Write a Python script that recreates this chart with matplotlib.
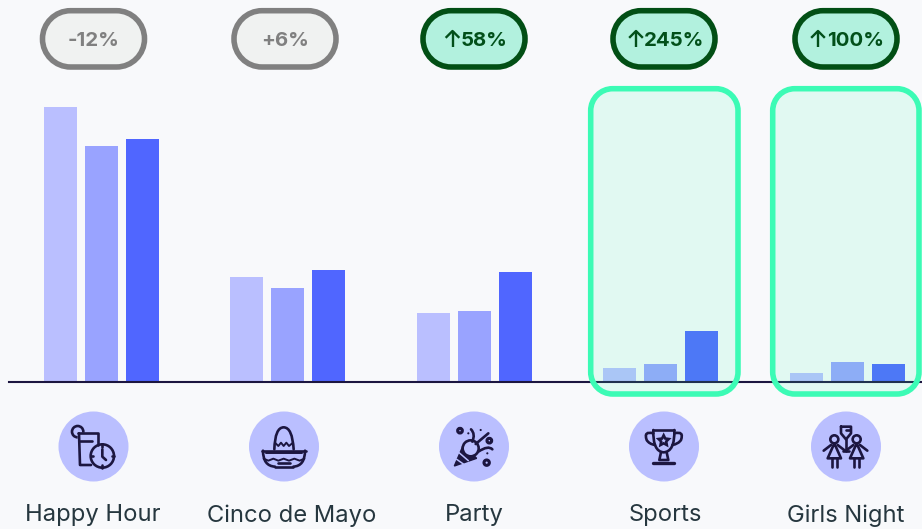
import matplotlib
matplotlib.use("Agg")
import matplotlib.pyplot as plt
from matplotlib.patches import Circle, Polygon, PathPatch
from matplotlib.path import Path
import numpy as np

W, H = 922, 529
categories = ["Happy Hour", "Cinco de Mayo", "Party", "Sports", "Girls Night"]
series_1 = [275, 105, 69, 14, 9]
series_2 = [236, 94, 71, 18, 20]
series_3 = [243, 112, 110, 51, 18]
changes = ["-12%", "+6%", "58%", "245%", "100%"]
is_up = [False, False, True, True, True]
highlighted = [False, False, False, True, True]

BG = "#F8F9FB"
BAR_COLORS = ["#BABFFF", "#99A3FF", "#5066FF"]
INK = "#1C1640"
plt.rcParams["font.family"] = ["Inter", "DejaVu Sans"]

fig = plt.figure(figsize=(W / 100, H / 100), dpi=100, facecolor=BG)

# value axes: baseline at y=382px
ax = fig.add_axes([0, (H - 382) / H, 1, 275 / H])
ax.set_facecolor("none")
step = 186.4
ax.set_xlim(-101.5 / step, (W - 101.5) / step)
ax.set_ylim(0, 275)
x = np.arange(len(categories))
for off, vals, col in zip([-41, 0, 41], [series_1, series_2, series_3], BAR_COLORS):
    ax.bar(x + off / step, vals, width=33 / step, color=col, linewidth=0, zorder=2)
for s in ["top", "left", "right"]:
    ax.spines[s].set_visible(False)
ax.spines["bottom"].set_linewidth(1.5)
ax.spines["bottom"].set_color(INK)
ax.spines["bottom"].set_zorder(3)
ax.spines["bottom"].set_bounds(-101.5 / step + 9 / step, (W - 101.5) / step)
ax.set_xticks([])
ax.set_yticks([])

# overlay in pixel coordinates
ov = fig.add_axes([0, 0, 1, 1], zorder=5)
ov.set_xlim(0, W)
ov.set_ylim(H, 0)
ov.axis("off")
ov.patch.set_alpha(0)


def box(x0, y0, x1, y1, r, **kw):
    k = 0.5523 * r
    v = [(x0 + r, y0), (x1 - r, y0),
         (x1 - r + k, y0), (x1, y0 + r - k), (x1, y0 + r),
         (x1, y1 - r),
         (x1, y1 - r + k), (x1 - r + k, y1), (x1 - r, y1),
         (x0 + r, y1),
         (x0 + r - k, y1), (x0, y1 - r + k), (x0, y1 - r),
         (x0, y0 + r),
         (x0, y0 + r - k), (x0 + r - k, y0), (x0 + r, y0),
         (x0 + r, y0)]
    c = [Path.MOVETO, Path.LINETO] + [Path.CURVE4] * 3 + [Path.LINETO] + [Path.CURVE4] * 3 + \
        [Path.LINETO] + [Path.CURVE4] * 3 + [Path.LINETO] + [Path.CURVE4] * 3 + [Path.CLOSEPOLY]
    p = PathPatch(Path(v, c), **kw)
    ov.add_patch(p)
    return p


# highlight boxes
box_x = {3: (590.7, 738), 4: (772.7, 919)}
for i, flag in enumerate(highlighted):
    if flag:
        x0, x1 = box_x[i]
        box(x0, 88.7, x1, 394, 22, facecolor="#3CFBB5", alpha=0.12, edgecolor="none")
        box(x0, 88.7, x1, 394, 22, facecolor="none", edgecolor="#3CFBB5", linewidth=4)

# pills
pill_c = [93.5, 285, 474, 664, 846]
for cx, txt, up in zip(pill_c, changes, is_up):
    fc, ec = ("#B2F1DE", "#024F15") if up else ("#F0F2F1", "#808080")
    box(cx - 51, 10.7, cx + 51, 67, 28, facecolor=fc, edgecolor=ec, linewidth=4)
    if up:
        tw = {"58%": 45, "245%": 58, "100%": 58}[txt]
        ov.text(cx + 10, 39, txt, ha="center", va="center_baseline", fontsize=14.7,
                fontweight="bold", color="#02501A")
        ax_x = cx + 10 - tw / 2 - 9
        ov.plot([ax_x, ax_x], [47, 31], color="#02501A", lw=1.7, solid_capstyle="butt")
        ov.plot([ax_x - 6, ax_x, ax_x + 6], [37, 31, 37], color="#02501A", lw=1.7)
    else:
        ov.text(cx, 39, txt, ha="center", va="center_baseline", fontsize=14.7,
                fontweight="bold", color="#808080")

# labels
label_c = [93, 291.5, 474, 665, 846]
for cx, lab in zip(label_c, categories):
    ov.text(cx, 513, lab, ha="center", va="center_baseline", fontsize=17.1, color="#26373F")

# icon circles
icon_c = [93.5, 284, 474, 664, 846]
for cx in icon_c:
    ov.add_patch(Circle((cx, 446.5), 35, facecolor="#BABFFF", edgecolor="none"))

LW = 1.9


def mapper(ox):
    return lambda pts: [(ox + p[0] / 3, 410 + p[1] / 3) for p in pts]


def line(m, pts, lw=LW, color=INK):
    a = np.array(m(pts))
    ov.plot(a[:, 0], a[:, 1], color=color, lw=lw, solid_capstyle="round",
            solid_joinstyle="round", zorder=4)


def curve(m, pts, lw=LW):
    q = m(pts)
    codes = [Path.MOVETO] + [Path.CURVE3] * (len(q) - 1)
    ov.add_patch(PathPatch(Path(q, codes), fc="none", ec=INK, lw=lw, capstyle="round", zorder=4))


def disc(m, c, r, fc="none", lw=LW):
    ov.add_patch(Circle(m([c])[0], r / 3, fc=fc, ec=INK, lw=lw, zorder=3))


# Happy hour
m = mapper(55)
disc(m, (68, 65), 17)
ov.add_patch(Polygon(m([(68, 68), (130, 68), (130, 110), (78, 165), (68, 165)]),
                     fc="#BABFFF", ec="none", zorder=3))
line(m, [(70, 70), (130, 70), (130, 105)])
line(m, [(72, 70), (75, 165), (108, 165)])
line(m, [(74, 93), (112, 93)])
disc(m, (142, 138), 35, fc="#BABFFF")
line(m, [(142, 118), (142, 140), (153, 150)])
for a, b in [((142, 103), (142, 110)), ((142, 166), (142, 173)),
             ((107, 138), (114, 138)), ((170, 138), (177, 138))]:
    line(m, [a, b])

# Sombrero
m = mapper(245)
line(m, [(52, 122), (182, 122)])
curve(m, [(54, 122), (54, 168), (90, 170)])
line(m, [(90, 170), (145, 170)])
curve(m, [(145, 170), (180, 168), (180, 122)])
curve(m, [(88, 118), (90, 52), (116, 52), (142, 52), (146, 118)])
line(m, [(90, 98), (100, 108), (108, 98), (116, 108), (124, 98), (132, 108), (144, 98)], lw=1.4)
line(m, [(56, 146), (70, 152), (85, 146), (100, 152), (116, 146), (132, 152), (148, 146), (164, 152), (178, 146)], lw=1.4)
line(m, [(62, 130), (172, 130)], lw=1.4)
line(m, [(100, 158), (134, 158)])

# Party
m = mapper(435)
ov.add_patch(Polygon(m([(58, 168), (85, 105), (125, 145)]), fc=INK, ec=INK, lw=1, zorder=3))
for a, b in [((72, 128), (100, 152)), ((65, 148), (85, 162))]:
    line(m, [a, b], lw=1.1, color="#BABFFF")
ov.add_patch(Circle(m([(107, 115)])[0], 8, fc="#BABFFF", ec=INK, lw=LW, zorder=3))
disc(m, (75, 62), 7, lw=2.2)
disc(m, (163, 92), 7, lw=2.2)
disc(m, (155, 158), 8, lw=2.2)
line(m, [(122, 102), (160, 70)])
curve(m, [(108, 58), (122, 72), (112, 95)])
curve(m, [(130, 125), (160, 105), (172, 118)])
for c in [(100, 70), (137, 60), (157, 130)]:
    disc(m, c, 1.5, fc=INK, lw=0.8)

# Trophy
m = mapper(625)
curve(m, [(85, 60), (83, 125), (116, 127), (150, 125), (148, 60)])
line(m, [(85, 60), (148, 60)])
curve(m, [(85, 70), (55, 62), (65, 90), (72, 102), (90, 105)])
curve(m, [(148, 70), (178, 62), (168, 90), (160, 102), (142, 105)])
line(m, [(108, 127), (103, 150), (130, 150), (125, 127)])
line(m, [(85, 160), (148, 160)], lw=2.4)
t = np.linspace(np.pi / 2, 2.5 * np.pi, 11)[:-1]
r = np.where(np.arange(10) % 2 == 0, 16, 8)
star = list(zip(116 + r * np.cos(t), 92 - r * np.sin(t)))
ov.add_patch(Polygon(m(star), closed=True, fc="none", ec=INK, lw=LW, zorder=4))

# Girls night
m = mapper(806)
for c in (85, 152):
    disc(m, (c, 88), 12)
    line(m, [(c, 100), (c - 20, 145), (c + 20, 145), (c, 100)])
    line(m, [(c - 8, 145), (c - 8, 170)])
    line(m, [(c + 8, 145), (c + 8, 170)])
    line(m, [(c - 32, 122), (c - 10, 105)])
    line(m, [(c + 32, 122), (c + 10, 105)])
line(m, [(105, 50), (135, 50), (135, 70), (120, 88), (105, 70), (105, 50)])
line(m, [(120, 88), (120, 122)])
line(m, [(110, 122), (130, 122)])
line(m, [(120, 60), (132, 60)])

fig.savefig("out.png", dpi=100, facecolor=BG)
